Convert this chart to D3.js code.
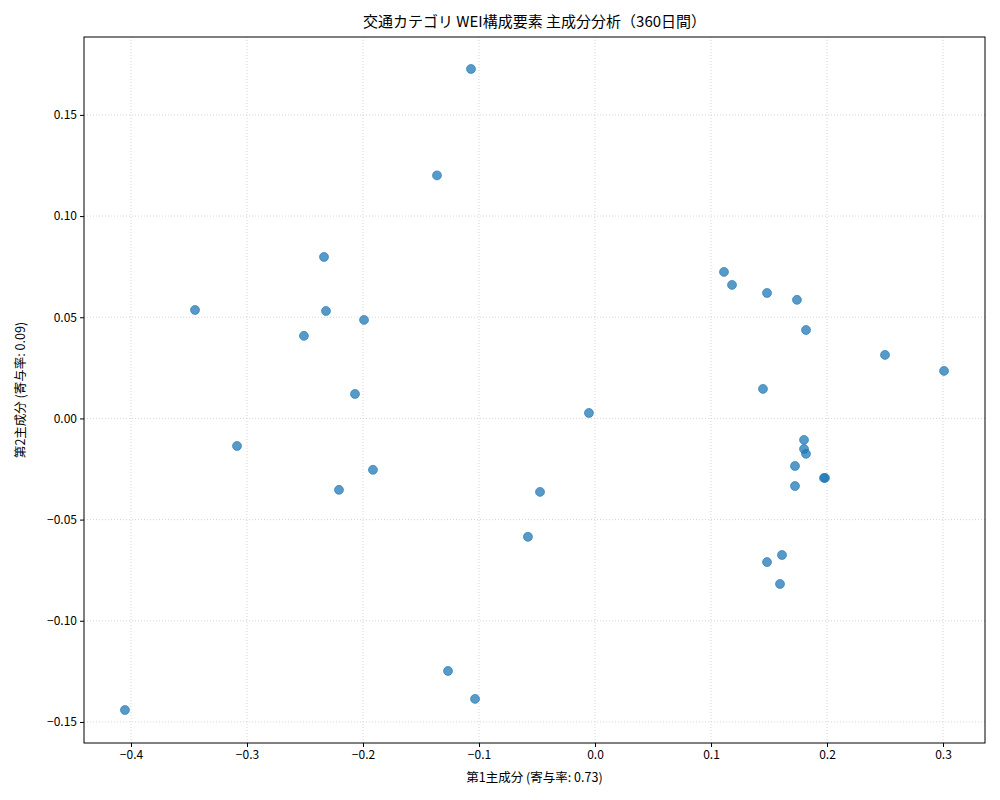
<!DOCTYPE html>
<html>
<head>
<meta charset="utf-8">
<script src="https://cdn.jsdelivr.net/npm/d3@7"></script>
<style>
  body { margin: 0; background: #fff; }
  text { font-family: "Noto Sans CJK JP", "DejaVu Sans", sans-serif; }
</style>
</head>
<body>
<svg id="chart" width="1000" height="800"></svg>
<script>
// PCA scores
const pc1 = [-0.1069, -0.1362, -0.2336, -0.3448, -0.2319, -0.1991, -0.2509, -0.2069, -0.3086, -0.1914,
  -0.2207, -0.0052, -0.0474, -0.0578, -0.1267, -0.1034, -0.4052, 0.1112, 0.1181, 0.1483,
  0.1741, 0.1819, 0.2500, 0.3009, 0.1448, 0.1802, 0.1802, 0.1819, 0.1724, 0.1983,
  0.1974, 0.1724, 0.1612, 0.1483, 0.1595];
const pc2 = [0.1727, 0.1201, 0.0798, 0.0536, 0.0531, 0.0487, 0.0408, 0.0121, -0.0136, -0.0254,
  -0.0353, 0.0027, -0.0363, -0.0585, -0.1248, -0.1386, -0.1441, 0.0724, 0.0660, 0.0620,
  0.0586, 0.0437, 0.0314, 0.0235, 0.0146, -0.0106, -0.0151, -0.0175, -0.0235, -0.0294,
  -0.0294, -0.0334, -0.0675, -0.0710, -0.0818];
const xTicks = [-0.4, -0.3, -0.2, -0.1, 0.0, 0.1, 0.2, 0.3];
const yTicks = [-0.15, -0.10, -0.05, 0.00, 0.05, 0.10, 0.15];

const svg = d3.select("#chart");
const m = {left: 84, right: 985, top: 37, bottom: 743};

const x = d3.scaleLinear().domain([-0.4405, 0.3362]).range([m.left, m.right]);
const y = d3.scaleLinear().domain([-0.1604, 0.1885]).range([m.bottom, m.top]);
const fmt = d => (d < 0 ? "\u2212" : "") + Math.abs(d).toFixed(d % 0.1 === 0 && Math.abs(d*10 - Math.round(d*10)) < 1e-9 && yTicks.indexOf(d) < 0 ? 1 : 2);

// grid
svg.append("g").selectAll("line").data(xTicks).enter().append("line")
  .attr("x1", d => x(d)).attr("x2", d => x(d)).attr("y1", m.top).attr("y2", m.bottom)
  .attr("stroke", "#ccc").attr("stroke-width", 0.8).attr("stroke-dasharray", "1,2");
svg.append("g").selectAll("line").data(yTicks).enter().append("line")
  .attr("y1", d => y(d)).attr("y2", d => y(d)).attr("x1", m.left).attr("x2", m.right)
  .attr("stroke", "#ccc").attr("stroke-width", 0.8).attr("stroke-dasharray", "1,2");

// axes
const xAxis = d3.axisBottom(x).tickValues(xTicks).tickSize(4)
  .tickFormat(d => (d < 0 ? "\u2212" : "") + Math.abs(d).toFixed(1));
const yAxis = d3.axisLeft(y).tickValues(yTicks).tickSize(4)
  .tickFormat(d => (d < 0 ? "\u2212" : "") + Math.abs(d).toFixed(2));
svg.append("g").attr("transform", `translate(0,${m.bottom})`).call(xAxis)
  .call(g => g.select(".domain").remove())
  .selectAll("text").attr("font-size", 12).attr("fill", "#000");
svg.append("g").attr("transform", `translate(${m.left},0)`).call(yAxis)
  .call(g => g.select(".domain").remove())
  .selectAll("text").attr("font-size", 12).attr("fill", "#000");

svg.append("rect").attr("x", m.left).attr("y", m.top)
  .attr("width", m.right - m.left).attr("height", m.bottom - m.top)
  .attr("fill", "none").attr("stroke", "#000").attr("stroke-width", 1);

// points
svg.append("g").selectAll("circle").data(pc1).enter().append("circle")
  .attr("cx", d => x(d)).attr("cy", (d, i) => y(pc2[i])).attr("r", 4.5)
  .attr("fill", "#1f77b4").attr("fill-opacity", 0.75)
  .attr("stroke", "#1f77b4").attr("stroke-opacity", 0.75).attr("stroke-width", 0.8);

// labels
svg.append("text").attr("x", (m.left + m.right) / 2).attr("y", 27).attr("text-anchor", "middle")
  .attr("font-size", 15).text("交通カテゴリ WEI構成要素 主成分分析（360日間）");
svg.append("text").attr("x", (m.left + m.right) / 2).attr("y", 782).attr("text-anchor", "middle")
  .attr("font-size", 12.5).text("第1主成分 (寄与率: 0.73)");
svg.append("text").attr("transform", `translate(25,${(m.top + m.bottom) / 2}) rotate(-90)`)
  .attr("text-anchor", "middle").attr("font-size", 12.5).text("第2主成分 (寄与率: 0.09)");
</script>
</body>
</html>
